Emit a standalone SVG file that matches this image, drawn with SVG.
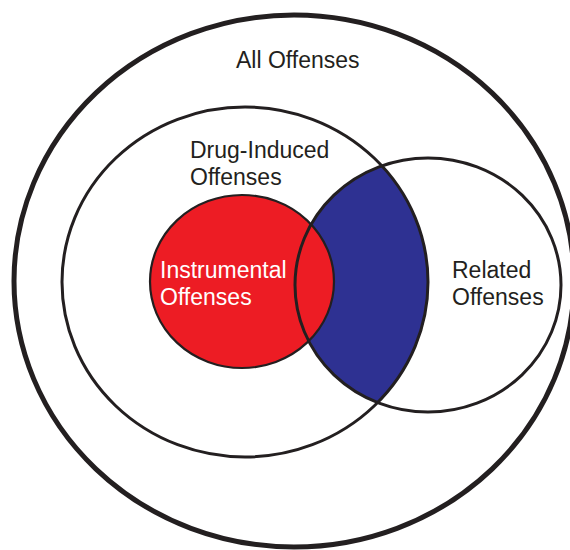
<svg xmlns="http://www.w3.org/2000/svg" width="570" height="550" viewBox="0 0 570 550">
<style>
.lbl{font-family:"Liberation Sans",Arial,sans-serif;font-size:23px;fill:#231F20}
.wht{fill:#FFFFFF}
.ring{fill:none;stroke:#231F20;stroke-width:3}
</style>
<defs>
<clipPath id="drugClip"><ellipse cx="245" cy="282" rx="183" ry="175"/></clipPath>
</defs>
<rect width="570" height="550" fill="#FFFFFF"/>
<g id="overlap">
<ellipse cx="428" cy="285" rx="133" ry="127" fill="#2E3192" clip-path="url(#drugClip)"/>
</g>
<g id="instrumental">
<ellipse cx="242" cy="281.5" rx="92" ry="86.5" fill="#ED1C24" stroke="#231F20" stroke-width="2.2"/>
<text class="lbl wht" x="160" y="278">Instrumental</text>
<text class="lbl wht" x="160" y="305">Offenses</text>
</g>
<g id="related">
<ellipse class="ring" cx="428" cy="285" rx="133" ry="127"/>
<text class="lbl" x="452" y="278">Related</text>
<text class="lbl" x="452" y="305">Offenses</text>
</g>
<g id="drug-induced">
<ellipse class="ring" cx="245" cy="282" rx="183" ry="175"/>
<text class="lbl" x="190" y="158">Drug-Induced</text>
<text class="lbl" x="190" y="185">Offenses</text>
</g>
<g id="all">
<ellipse cx="294" cy="281" rx="280" ry="266" fill="none" stroke="#231F20" stroke-width="5"/>
<text class="lbl" x="236" y="68">All Offenses</text>
</g>
<g id="connectors"></g>
</svg>
